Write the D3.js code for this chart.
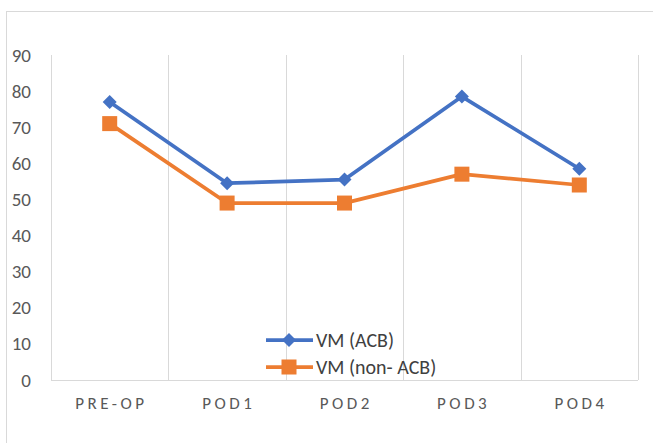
<!DOCTYPE html>
<html>
<head>
<meta charset="utf-8">
<script src="https://cdn.jsdelivr.net/npm/d3@7"></script>
<style>
  html, body { margin: 0; padding: 0; background: #fff; }
  svg { display: block; font-family: Calibri, Carlito, "Liberation Sans", Arial, sans-serif; }
</style>
</head>
<body>
<div id="chart"></div>
<script>
// Visual measurement values at each time point
const categories = ["PRE-OP", "POD1", "POD2", "POD3", "POD4"];
const vmACB = [77, 54.5, 55.5, 78.5, 58.5];
const vmNonACB = [71, 49, 49, 57, 54];
const yTicks = [0, 10, 20, 30, 40, 50, 60, 70, 80, 90];

const seriesList = [
  { name: "VM (ACB)", values: vmACB, color: "#4472C4", marker: "diamond" },
  { name: "VM (non- ACB)", values: vmNonACB, color: "#ED7D31", marker: "square" }
];

const W = 653, H = 443;
const plot = { left: 51, right: 638, top: 55, bottom: 380 };
const fontStack = "Calibri, Carlito, 'Liberation Sans', Arial, sans-serif";

const svg = d3.select("#chart").append("svg")
  .attr("width", W).attr("height", H);

// Chart frame
svg.append("rect")
  .attr("x", 6.5).attr("y", 11.5)
  .attr("width", W + 10).attr("height", H + 10)
  .attr("fill", "none").attr("stroke", "#d9d9d9").attr("stroke-width", 1);

const x = d3.scaleBand().domain(categories).range([plot.left, plot.right]).padding(0);
const y = d3.scaleLinear().domain([0, 90]).range([plot.bottom, plot.top]);

// Vertical gridlines at category boundaries
const bounds = categories.map(c => x(c)).concat([plot.right]);
svg.append("g").selectAll("line").data(bounds).join("line")
  .attr("x1", d => Math.round(d) + 0.5).attr("x2", d => Math.round(d) + 0.5)
  .attr("y1", plot.top).attr("y2", plot.bottom)
  .attr("stroke", "#d9d9d9").attr("stroke-width", 1);

// Category axis baseline
svg.append("line")
  .attr("x1", plot.left).attr("x2", plot.right)
  .attr("y1", y(0) + 0.5).attr("y2", y(0) + 0.5)
  .attr("stroke", "#d9d9d9").attr("stroke-width", 1);

// Y axis labels
const yAxis = d3.axisLeft(y).tickValues(yTicks).tickSize(0).tickPadding(0);
const gy = svg.append("g").attr("transform", `translate(${plot.left - 20},0)`).call(yAxis);
gy.select(".domain").remove();
gy.selectAll("text")
  .attr("fill", "#595959").style("font-size", "19px")
  .style("font-family", fontStack);

// X axis labels
const xAxis = d3.axisBottom(x).tickSize(0).tickPadding(0);
const gx = svg.append("g").attr("transform", `translate(0,${plot.bottom + 17})`).call(xAxis);
gx.select(".domain").remove();
gx.selectAll("text")
  .attr("fill", "#595959").style("font-size", "17px")
  .style("letter-spacing", "3.5px")
  .style("font-family", fontStack)
  .attr("dx", "1.75px");

const cx = c => x(c) + x.bandwidth() / 2;
const line = d3.line().x((d, i) => cx(categories[i])).y(d => y(d));

function drawMarker(g, type, color, px, py) {
  if (type === "diamond") {
    const s = 7;
    g.append("path")
      .attr("d", `M${px},${py - s}L${px + s},${py}L${px},${py + s}L${px - s},${py}Z`)
      .attr("fill", color);
  } else {
    const s = 7.5;
    g.append("rect")
      .attr("x", px - s).attr("y", py - s).attr("width", 2 * s).attr("height", 2 * s)
      .attr("fill", color);
  }
}

// Draw non-ACB first so ACB sits on top
[...seriesList].reverse().forEach(s => {
  const g = svg.append("g");
  g.append("path").datum(s.values)
    .attr("d", line).attr("fill", "none")
    .attr("stroke", s.color).attr("stroke-width", 3.75)
    .attr("stroke-linejoin", "round");
  s.values.forEach((v, i) => drawMarker(g, s.marker, s.color, cx(categories[i]), y(v)));
});

// Legend
const legend = svg.append("g");
seriesList.forEach((s, i) => {
  const ly = 340 + i * 27;
  const g = legend.append("g");
  g.append("line").attr("x1", 266).attr("x2", 313).attr("y1", ly).attr("y2", ly)
    .attr("stroke", s.color).attr("stroke-width", 3.75);
  drawMarker(g, s.marker, s.color, 289, ly);
  g.append("text").attr("x", 316).attr("y", ly).attr("dy", "0.35em")
    .attr("fill", "#404040").style("font-size", "20px")
    .text(s.name);
});
</script>
</body>
</html>
